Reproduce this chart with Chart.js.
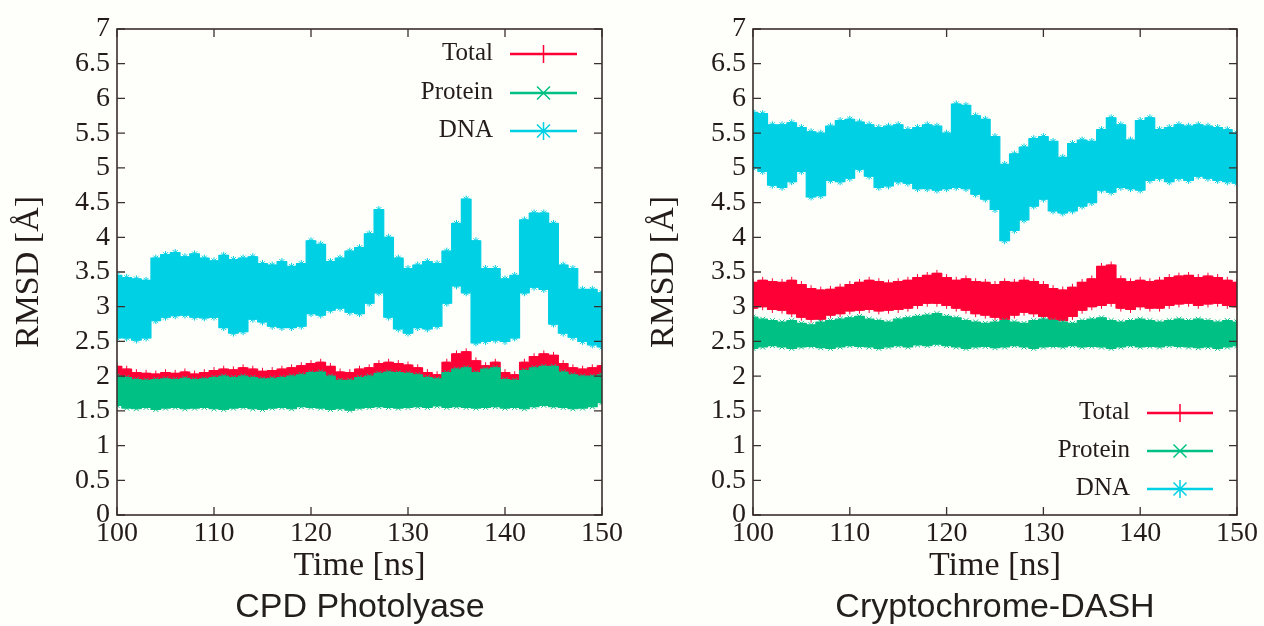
<!DOCTYPE html>
<html>
<head>
<meta charset="utf-8">
<script src="https://cdn.jsdelivr.net/npm/chart.js@4.4.0/dist/chart.umd.min.js"></script>
<style>
html,body{margin:0;padding:0;background:#fefefb;}
#wrap{position:relative;width:1264px;height:626px;overflow:hidden;background:#fefefb;}
.pane{position:absolute;top:0;width:632px;height:626px;}
.sub{position:absolute;top:585px;width:400px;text-align:center;font-family:'Liberation Sans',Arial,sans-serif;font-size:34px;line-height:40px;color:#231f1c;}
</style>
</head>
<body>
<div id="wrap">
  <div class="pane" style="left:0"><canvas id="c1" width="632" height="626"></canvas></div>
  <div class="pane" style="left:632px"><canvas id="c2" width="632" height="626"></canvas></div>
  <div class="sub" style="left:160px">CPD Photolyase</div>
  <div class="sub" style="left:795px">Cryptochrome-DASH</div>
</div>
<script>
// ---------- data (upper / lower envelope of each noisy RMSD trace, per ns) ----------
const times = [100,101,102,103,104,105,106,107,108,109,110,111,112,113,114,115,116,117,118,119,120,
  121,122,123,124,125,126,127,128,129,130,131,132,133,134,135,136,137,138,139,140,
  141,142,143,144,145,146,147,148,149,150];
const xTicks = [100,110,120,130,140,150];
const yTicks = [0,0.5,1,1.5,2,2.5,3,3.5,4,4.5,5,5.5,6,6.5,7];
const seriesNames = ['Total','Protein','DNA'];
const panelTitles = ['CPD Photolyase','Cryptochrome-DASH'];

// CPD Photolyase
const cpdTotalHi = [2.14,2.10,2.05,2.04,2.03,2.05,2.04,2.06,2.03,2.05,2.08,2.10,2.09,2.12,2.10,2.07,2.08,2.10,2.12,2.15,2.18,
  2.20,2.14,2.06,2.05,2.10,2.12,2.18,2.20,2.18,2.16,2.12,2.05,2.02,2.20,2.32,2.35,2.22,2.15,2.20,2.05,
  2.02,2.20,2.28,2.32,2.30,2.18,2.12,2.10,2.12,2.15];
const cpdTotalLo = [1.92,1.90,1.88,1.87,1.88,1.89,1.88,1.90,1.88,1.89,1.91,1.92,1.90,1.92,1.91,1.89,1.90,1.91,1.92,1.94,1.96,
  1.97,1.92,1.87,1.87,1.90,1.92,1.95,1.97,1.96,1.95,1.93,1.90,1.88,1.96,2.00,2.02,1.96,1.98,2.00,1.88,
  1.87,1.96,2.00,2.02,2.02,1.96,1.93,1.92,1.92,1.94];
const cpdProteinHi = [2.00,1.98,1.95,1.94,1.95,1.96,1.95,1.97,1.95,1.96,1.98,2.00,1.98,2.00,1.98,1.96,1.97,1.98,2.00,2.02,2.05,
  2.06,2.00,1.94,1.94,1.98,2.00,2.04,2.06,2.05,2.04,2.02,1.98,1.96,2.05,2.10,2.12,2.05,2.10,2.12,1.95,
  1.94,2.08,2.12,2.14,2.14,2.06,2.02,2.00,2.00,2.02];
const cpdProteinLo = [1.58,1.54,1.53,1.55,1.52,1.54,1.55,1.53,1.54,1.55,1.53,1.52,1.54,1.55,1.53,1.52,1.54,1.55,1.53,1.56,1.55,
  1.54,1.52,1.53,1.51,1.54,1.55,1.56,1.55,1.54,1.55,1.56,1.55,1.57,1.55,1.56,1.55,1.54,1.55,1.56,1.54,
  1.55,1.53,1.56,1.58,1.56,1.55,1.53,1.54,1.56,1.62];
const cpdDnaHi = [3.45,3.42,3.40,3.38,3.70,3.75,3.78,3.72,3.76,3.70,3.66,3.74,3.68,3.70,3.72,3.62,3.60,3.65,3.58,3.62,3.95,
  3.90,3.65,3.70,3.80,3.85,4.05,4.40,4.00,3.70,3.55,3.60,3.65,3.62,3.80,4.20,4.55,3.95,3.55,3.55,3.40,
  3.45,4.25,4.35,4.35,4.20,3.60,3.55,3.25,3.25,3.20];
const cpdDnaLo = [2.55,2.55,2.52,2.55,2.80,2.85,2.87,2.88,2.85,2.84,2.85,2.70,2.62,2.64,2.82,2.78,2.72,2.70,2.70,2.72,2.90,
  2.88,2.95,2.98,2.92,2.90,3.05,3.20,2.85,2.68,2.62,2.70,2.68,2.72,3.05,3.30,3.20,2.48,2.50,2.52,2.50,
  2.55,3.20,3.28,3.25,2.75,2.62,2.56,2.50,2.45,2.42];

// Cryptochrome-DASH
const dashTotalHi = [3.35,3.38,3.36,3.35,3.38,3.32,3.26,3.24,3.25,3.28,3.32,3.35,3.38,3.36,3.34,3.36,3.38,3.42,3.45,3.48,3.42,
  3.38,3.40,3.36,3.35,3.32,3.36,3.35,3.38,3.36,3.32,3.26,3.24,3.28,3.35,3.40,3.58,3.60,3.40,3.36,3.38,
  3.36,3.38,3.42,3.44,3.45,3.42,3.44,3.42,3.38,3.35];
const dashTotalLo = [2.98,3.00,2.96,2.95,2.90,2.85,2.82,2.82,2.88,2.90,2.94,2.95,2.96,2.94,2.95,2.96,2.98,3.02,3.05,3.05,3.02,
  2.98,2.95,2.90,2.88,2.85,2.82,2.88,2.92,2.90,2.86,2.82,2.80,2.86,2.95,3.00,3.02,3.05,2.98,2.96,3.00,
  2.98,2.98,3.02,3.04,3.05,3.02,3.04,3.05,3.02,3.00];
const dashProteinHi = [2.85,2.82,2.80,2.78,2.80,2.76,2.74,2.78,2.80,2.82,2.84,2.86,2.82,2.80,2.78,2.82,2.84,2.86,2.88,2.90,2.86,
  2.84,2.80,2.78,2.76,2.78,2.80,2.78,2.76,2.80,2.82,2.80,2.78,2.76,2.80,2.82,2.84,2.80,2.78,2.80,2.82,
  2.80,2.78,2.80,2.82,2.80,2.82,2.80,2.78,2.80,2.78];
const dashProteinLo = [2.40,2.42,2.44,2.42,2.40,2.42,2.43,2.41,2.40,2.42,2.44,2.43,2.42,2.40,2.42,2.44,2.42,2.45,2.44,2.46,2.44,
  2.42,2.40,2.42,2.43,2.41,2.42,2.44,2.42,2.40,2.42,2.43,2.42,2.44,2.42,2.43,2.42,2.40,2.42,2.44,2.42,
  2.43,2.42,2.44,2.43,2.42,2.41,2.42,2.40,2.42,2.44];
const dashDnaHi = [5.80,5.78,5.62,5.62,5.65,5.58,5.52,5.50,5.60,5.68,5.70,5.66,5.62,5.58,5.60,5.62,5.55,5.58,5.62,5.60,5.50,
  5.92,5.90,5.75,5.70,5.45,5.05,5.20,5.30,5.42,5.45,5.38,5.15,5.35,5.40,5.38,5.55,5.72,5.62,5.40,5.68,
  5.72,5.55,5.58,5.62,5.60,5.62,5.60,5.58,5.55,5.50];
const dashDnaLo = [5.00,4.95,4.75,4.72,4.80,4.95,4.58,4.60,4.82,4.80,4.85,4.98,4.88,4.72,4.74,4.80,4.78,4.70,4.70,4.68,4.70,
  4.72,4.70,4.62,4.55,4.40,3.95,4.10,4.25,4.45,4.55,4.38,4.35,4.38,4.45,4.50,4.68,4.65,4.72,4.70,4.68,
  4.82,4.85,4.80,4.85,4.82,4.88,4.85,4.82,4.80,4.78];

// ---------- styling ----------
const colors = {Total:'#ff0036', Protein:'#00c084', DNA:'#00d0e4'};
const markers = {Total:'cross', Protein:'crossRot', DNA:'star'};
const drawOrder = {Total:3, Protein:2, DNA:1};
const ink = '#231c19';
const frameInk = '#3a302c';
const serif = "'Liberation Serif','Times New Roman',serif";

function band(name, hi, lo) {
  const c = colors[name];
  const common = {borderColor:c, backgroundColor:c, pointStyle:markers[name], pointRadius:3.5,
    pointBorderWidth:1, pointBorderColor:c, borderWidth:1.2, order:drawOrder[name], stepped:'middle'};
  return [
    Object.assign({label:name, data:times.map((t,i)=>({x:t,y:hi[i]})), fill:false}, common),
    Object.assign({label:name+' (lower)', data:times.map((t,i)=>({x:t,y:lo[i]})), fill:'-1'}, common)
  ];
}

const frameTicks = {
  id:'frameTicks',
  afterDatasetsDraw(chart) {
    const {ctx, chartArea:a, scales:{x, y}} = chart;
    ctx.save();
    ctx.strokeStyle = frameInk;
    ctx.lineWidth = 1.6;
    ctx.strokeRect(a.left, a.top, a.right - a.left, a.bottom - a.top);
    ctx.lineWidth = 1.3;
    const L = 8;
    ctx.beginPath();
    x.ticks.forEach(t => {
      const px = x.getPixelForValue(t.value);
      ctx.moveTo(px, a.bottom); ctx.lineTo(px, a.bottom - L);
      ctx.moveTo(px, a.top); ctx.lineTo(px, a.top + L);
    });
    y.ticks.forEach(t => {
      const py = y.getPixelForValue(t.value);
      ctx.moveTo(a.left, py); ctx.lineTo(a.left + L, py);
      ctx.moveTo(a.right, py); ctx.lineTo(a.right - L, py);
    });
    ctx.stroke();
    ctx.restore();
  }
};

function drawMarker(ctx, style, x, y, r) {
  ctx.beginPath();
  if (style === 'cross' || style === 'star') {
    ctx.moveTo(x, y - r); ctx.lineTo(x, y + r);
    ctx.moveTo(x - r, y); ctx.lineTo(x + r, y);
  }
  if (style === 'crossRot' || style === 'star') {
    const d = r * 0.72;
    ctx.moveTo(x - d, y - d); ctx.lineTo(x + d, y + d);
    ctx.moveTo(x - d, y + d); ctx.lineTo(x + d, y - d);
  }
  ctx.stroke();
}

const keyLegend = {
  id:'keyLegend',
  afterDraw(chart, args, opts) {
    const ctx = chart.ctx;
    ctx.save();
    ctx.font = '25px ' + serif;
    ctx.textAlign = 'right';
    ctx.textBaseline = 'middle';
    seriesNames.forEach((name, i) => {
      const y = opts.rows[i];
      ctx.fillStyle = ink;
      ctx.fillText(name, opts.textRight, y - 1);
      ctx.strokeStyle = colors[name];
      ctx.lineWidth = 2.6;
      ctx.beginPath(); ctx.moveTo(opts.x1, y); ctx.lineTo(opts.x2, y); ctx.stroke();
      ctx.lineWidth = 1.5;
      drawMarker(ctx, markers[name], (opts.x1 + opts.x2) / 2, y, 9);
    });
    ctx.restore();
  }
};

function makeChart(id, sets, yWidth, rightPad, titlePad, legendOpts) {
  const datasets = [].concat(
    band('Total', sets.Total[0], sets.Total[1]),
    band('Protein', sets.Protein[0], sets.Protein[1]),
    band('DNA', sets.DNA[0], sets.DNA[1])
  );
  return new Chart(document.getElementById(id), {
    type:'line',
    data:{datasets},
    plugins:[frameTicks, keyLegend],
    options:{
      responsive:false, animation:false, devicePixelRatio:1,
      layout:{padding:{top:29, right:rightPad, bottom:0, left:0}},
      plugins:{legend:{display:false}, tooltip:{enabled:false}, keyLegend:legendOpts},
      elements:{line:{borderJoinStyle:'round'}},
      scales:{
        x:{
          type:'linear', min:100, max:150,
          afterBuildTicks:s => { s.ticks = xTicks.map(v => ({value:v})); },
          afterFit:s => { s.height = 111; },
          grid:{display:false, drawTicks:false}, border:{display:false},
          ticks:{color:ink, padding:2, autoSkip:false, font:{family:serif, size:28}, maxRotation:0,
                 callback:v => String(v)},
          title:{display:true, text:'Time [ns]', color:ink, font:{family:serif, size:34},
                 padding:{top:0, bottom:40}}
        },
        y:{
          type:'linear', min:0, max:7,
          afterBuildTicks:s => { s.ticks = yTicks.map(v => ({value:v})); },
          afterFit:s => { s.width = yWidth; },
          grid:{display:false, drawTicks:false}, border:{display:false},
          ticks:{color:ink, padding:7, autoSkip:false, font:{family:serif, size:28}, callback:v => String(v)},
          title:{display:true, text:'RMSD [Å]', color:ink, font:{family:serif, size:34},
                 padding:{top:titlePad, bottom:0}}
        }
      }
    }
  });
}

makeChart('c1',
  {Total:[cpdTotalHi, cpdTotalLo], Protein:[cpdProteinHi, cpdProteinLo], DNA:[cpdDnaHi, cpdDnaLo]},
  117, 30, 9, {textRight:493, x1:510, x2:577, rows:[54, 93, 131]});
makeChart('c2',
  {Total:[dashTotalHi, dashTotalLo], Protein:[dashProteinHi, dashProteinLo], DNA:[dashDnaHi, dashDnaLo]},
  121, 27, 12, {textRight:498, x1:515, x2:581, rows:[413, 451, 489]});
</script>
</body>
</html>
